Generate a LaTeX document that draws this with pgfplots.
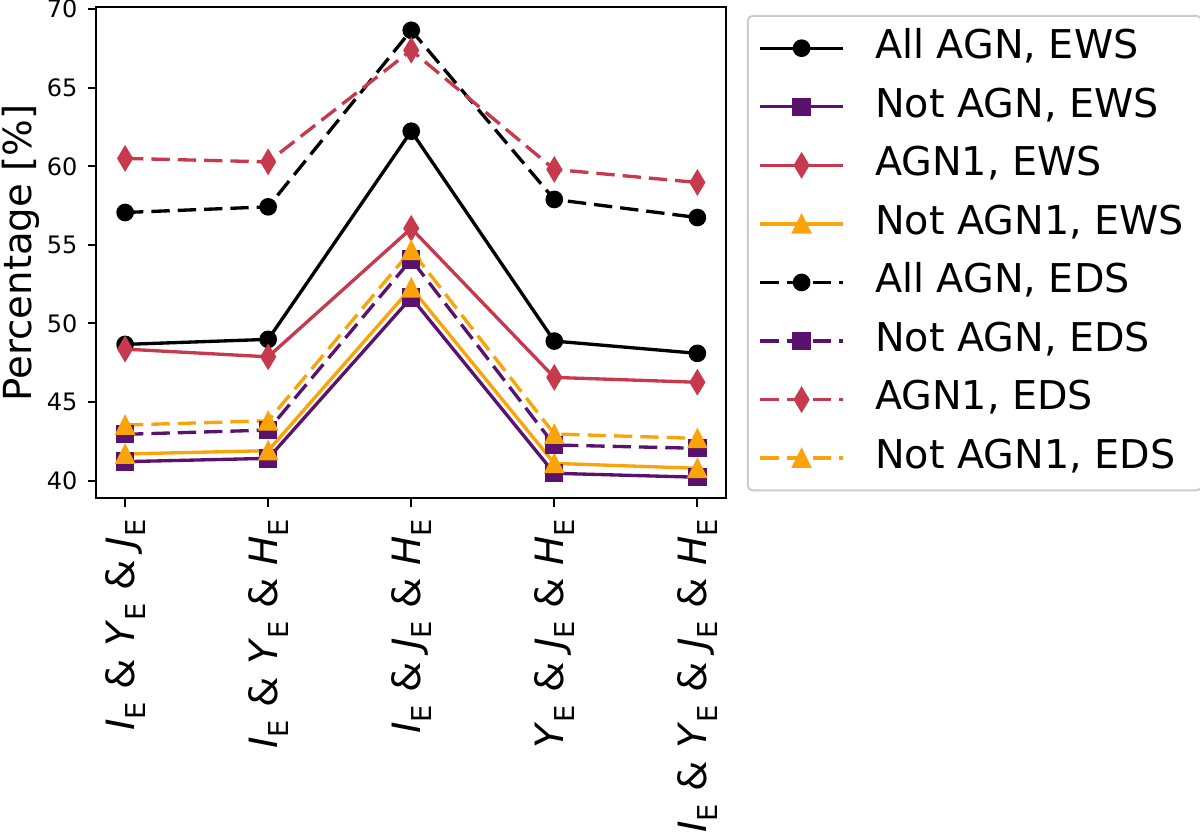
\documentclass[border=0pt]{standalone}
\usepackage{pgfplots}
\pgfplotsset{compat=1.18}
\usepackage{fontspec}
\setmainfont{DejaVu Sans}
\definecolor{cPur}{RGB}{91,18,110}
\definecolor{cRed}{RGB}{199,58,78}
\definecolor{cOra}{RGB}{251,164,10}
\pgfdeclareplotmark{mtri}{%
  \pgfpathmoveto{\pgfqpoint{0pt}{\pgfplotmarksize}}%
  \pgfpathlineto{\pgfqpoint{-\pgfplotmarksize}{-\pgfplotmarksize}}%
  \pgfpathlineto{\pgfqpoint{\pgfplotmarksize}{-\pgfplotmarksize}}%
  \pgfpathclose\pgfusepathqfillstroke}
\pgfdeclareplotmark{mdia}{%
  \pgfpathmoveto{\pgfqpoint{0pt}{\pgfplotmarksize}}%
  \pgfpathlineto{\pgfqpoint{0.6\pgfplotmarksize}{0pt}}%
  \pgfpathlineto{\pgfqpoint{0pt}{-\pgfplotmarksize}}%
  \pgfpathlineto{\pgfqpoint{-0.6\pgfplotmarksize}{0pt}}%
  \pgfpathclose\pgfusepathqfillstroke}
\newcommand{\bd}[1]{\textit{#1}\raisebox{-0.28em}{\fontsize{8.2}{9}\selectfont E}}
\pgfplotstableread{
x AllEWS NotEWS AGNaEWS NotaEWS AllEDS NotEDS AGNaEDS NotaEDS
0 48.67 41.21 48.37 41.70 57.06 42.95 60.50 43.54
1 48.99 41.42 47.88 41.91 57.42 43.22 60.28 43.81
2 62.23 51.65 56.05 52.27 68.65 54.07 67.38 54.66
3 48.88 40.47 46.57 41.10 57.89 42.27 59.80 42.97
4 48.10 40.22 46.26 40.79 56.74 42.06 58.97 42.69
}\datatab
\begin{document}
\begin{tikzpicture}
\useasboundingbox (-28.95pt,-101.91pt) rectangle (331.05pt,149.49pt);
\begin{axis}[
  at={(0pt,0pt)}, anchor=south west,
  scale only axis, width=188.85pt, height=147.24pt,
  xmin=-0.2, xmax=4.2, ymin=38.88, ymax=70.1,
  axis line style={line width=0.6pt},
  xtick={0,1,2,3,4},
  xticklabels={{\bd{I} \& \bd{Y} \& \bd{J}},{\bd{I} \& \bd{Y} \& \bd{H}},{\bd{I} \& \bd{J} \& \bd{H}},{\bd{Y} \& \bd{J} \& \bd{H}},{\bd{I} \& \bd{Y} \& \bd{J} \& \bd{H}}},
  ytick={40,45,50,55,60,65,70},
  xtick pos=bottom, ytick pos=left,
  tick align=outside, major tick length=2.5pt,
  tick style={black, line width=0.6pt},
  /pgf/number format/assume math mode=true,
  yticklabel style={font=\fontsize{7.2}{8}\selectfont, inner sep=0pt, anchor=east, xshift=-3pt},
  xticklabel style={font=\fontsize{11.7}{13}\selectfont, yshift=-3.6pt, rotate=90, anchor=east, inner sep=0pt},
  ylabel={Percentage [\%]},
  ylabel style={font=\fontsize{11.6}{13}\selectfont, at={(axis description cs:-0.089,0.5)}, anchor=south, inner sep=0pt},
  legend style={at={(1.033,0.985)}, anchor=north west, draw=black!20, line width=0.6pt, rounded corners=1.5pt,
    font=\fontsize{11.9}{13}\selectfont, inner xsep=1pt, inner ysep=2.2pt, row sep=2.57pt, column sep=4.9pt,
    nodes={inner xsep=4.3pt, inner ysep=2pt, text height=8.6pt, text depth=2.4pt}},
  legend cell align=left,
  legend image code/.code={\path (-2.3pt,0pt); \draw[mark repeat=2,mark phase=2,#1] plot coordinates {(0pt,0pt) (12.35pt,0pt) (24.7pt,0pt)};},
  every axis plot/.append style={line width=1pt},
]
\addplot[black, mark=*, mark size=2.4pt, mark options={solid, fill=black, line width=0.5pt}] table[x=x,y=AllEWS] {\datatab};
\addlegendentry{All AGN, EWS}
\addplot[cPur, mark=square*, mark size=2.5pt, mark options={solid, fill=cPur, line width=0.5pt}] table[x=x,y=NotEWS] {\datatab};
\addlegendentry{Not AGN, EWS}
\addplot[cRed, mark=mdia, mark size=3.55pt, mark options={solid, fill=cRed, line width=0.5pt}] table[x=x,y=AGNaEWS] {\datatab};
\addlegendentry{AGN1, EWS}
\addplot[cOra, mark=mtri, mark size=2.7pt, mark options={solid, fill=cOra, line width=0.5pt}] table[x=x,y=NotaEWS] {\datatab};
\addlegendentry{Not AGN1, EWS}
\addplot[black, dash pattern=on 5.5pt off 2.4pt, mark=*, mark size=2.4pt, mark options={solid, fill=black, line width=0.5pt}] table[x=x,y=AllEDS] {\datatab};
\addlegendentry{All AGN, EDS}
\addplot[cPur, dash pattern=on 5.5pt off 2.4pt, mark=square*, mark size=2.5pt, mark options={solid, fill=cPur, line width=0.5pt}] table[x=x,y=NotEDS] {\datatab};
\addlegendentry{Not AGN, EDS}
\addplot[cRed, dash pattern=on 5.5pt off 2.4pt, mark=mdia, mark size=3.55pt, mark options={solid, fill=cRed, line width=0.5pt}] table[x=x,y=AGNaEDS] {\datatab};
\addlegendentry{AGN1, EDS}
\addplot[cOra, dash pattern=on 5.5pt off 2.4pt, mark=mtri, mark size=2.7pt, mark options={solid, fill=cOra, line width=0.5pt}] table[x=x,y=NotaEDS] {\datatab};
\addlegendentry{Not AGN1, EDS}
\end{axis}
\end{tikzpicture}
\end{document}
